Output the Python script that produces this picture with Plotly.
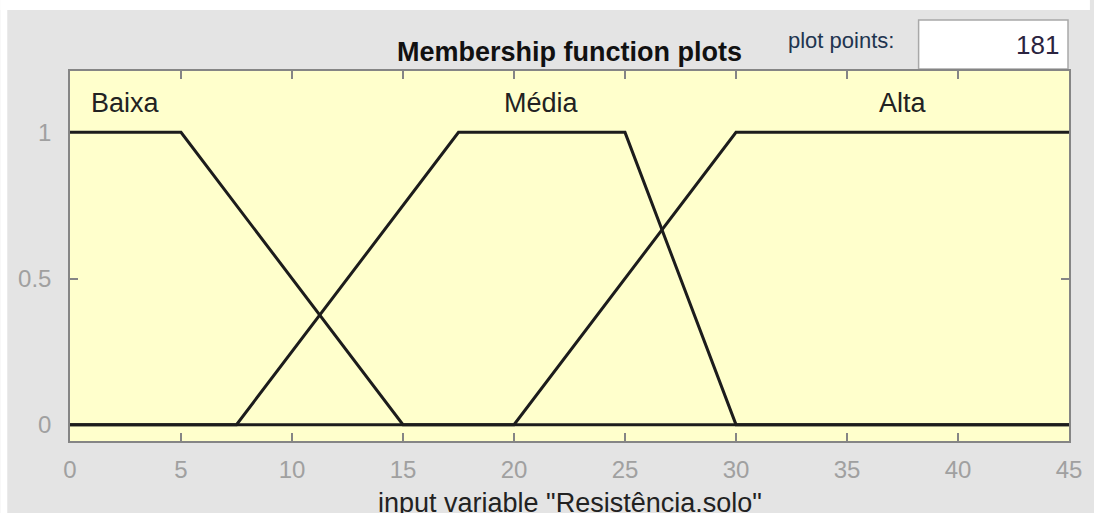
import plotly.graph_objects as go

# Membership functions of input variable "Resistência.solo" (trapezoid vertices)
mf_names = ["Baixa", "Média", "Alta"]
baixa_x = [0, 5, 15, 45]
baixa_y = [1, 1, 0, 0]
media_x = [0, 7.5, 17.5, 25, 30, 45]
media_y = [0, 0, 1, 1, 0, 0]
alta_x = [0, 20, 30, 45]
alta_y = [0, 0, 1, 1]
label_x = [2.5, 21.25, 37.5]
label_y = 1.1

x_ticks = [0, 5, 10, 15, 20, 25, 30, 35, 40, 45]
y_ticks = [0, 0.5, 1]
plot_points = 181

W, H = 1094, 513
ML, MR, MT, MB = 70, 21, 71, 72
PW, PH = W - ML - MR, H - MT - MB


def px(x):
    return (x - ML) / PW


def py(y):
    return (H - MB - y) / PH


line_style = dict(color="#1c1c1c", width=3)
fig = go.Figure()
for xs, ys, name in zip([baixa_x, media_x, alta_x], [baixa_y, media_y, alta_y], mf_names):
    fig.add_trace(go.Scatter(x=xs, y=ys, mode="lines", line=line_style,
                             name=name, showlegend=False, hoverinfo="skip",
                             cliponaxis=False))

annotations = []
for name, lx in zip(mf_names, label_x):
    annotations.append(dict(x=lx, y=label_y, xref="x", yref="y", text=name,
                            showarrow=False, font=dict(size=27, color="#222222"),
                            xanchor="center", yanchor="middle"))

annotations += [
    dict(x=0.5, y=py(52), xref="paper", yref="paper",
         text="<b>Membership function plots</b>", showarrow=False,
         font=dict(size=27, color="#111111"), xanchor="center", yanchor="middle"),
    dict(x=px(844), y=py(41), xref="paper", yref="paper", text="plot points:",
         showarrow=False, font=dict(size=22, color="#1f3550"),
         xanchor="center", yanchor="middle"),
    dict(x=px(1065), y=py(45), xref="paper", yref="paper", text=str(plot_points),
         showarrow=False, font=dict(size=26, color="#2b2440"),
         xanchor="right", yanchor="middle"),
    dict(x=0.5, y=py(503), xref="paper", yref="paper",
         text='input variable "Resistência.solo"', showarrow=False,
         font=dict(size=27, color="#222222"), xanchor="center", yanchor="middle"),
]

shapes = [
    # white margins at top and left of the window
    dict(type="rect", xref="paper", yref="paper", x0=px(0), x1=px(W), y0=py(10), y1=py(0),
         fillcolor="white", line=dict(width=0), layer="above"),
    dict(type="rect", xref="paper", yref="paper", x0=px(0), x1=px(7), y0=py(H), y1=py(0),
         fillcolor="white", line=dict(width=0), layer="above"),
    # plot points edit box
    dict(type="rect", xref="paper", yref="paper", x0=px(922), x1=px(1072), y0=py(69), y1=py(20),
         fillcolor="white", line=dict(color="#a8a8a8", width=1.5), layer="below"),
]

axis_common = dict(showgrid=False, zeroline=False, showline=True, mirror="ticks",
                   linecolor="#858585", linewidth=1.5, ticks="inside", ticklen=8,
                   tickcolor="#858585", tickwidth=1.5, layer="below traces",
                   tickfont=dict(size=24, color="#a0a0a0", family="Liberation Sans, Arial"))

fig.update_layout(
    width=W, height=H,
    margin=dict(l=ML, r=MR, t=MT, b=MB, pad=0),
    paper_bgcolor="#e4e4e4",
    plot_bgcolor="#ffffcc",
    font=dict(family="Liberation Sans, Arial"),
    xaxis=dict(range=[0, 45], tickvals=x_ticks, ticklabelstandoff=6, **axis_common),
    yaxis=dict(range=[-0.056, 1.21], tickvals=y_ticks, ticktext=["0", "0.5", "1"],
               ticklabelstandoff=12, **axis_common),
    annotations=annotations,
    shapes=shapes,
)

fig.write_html("out.html")
